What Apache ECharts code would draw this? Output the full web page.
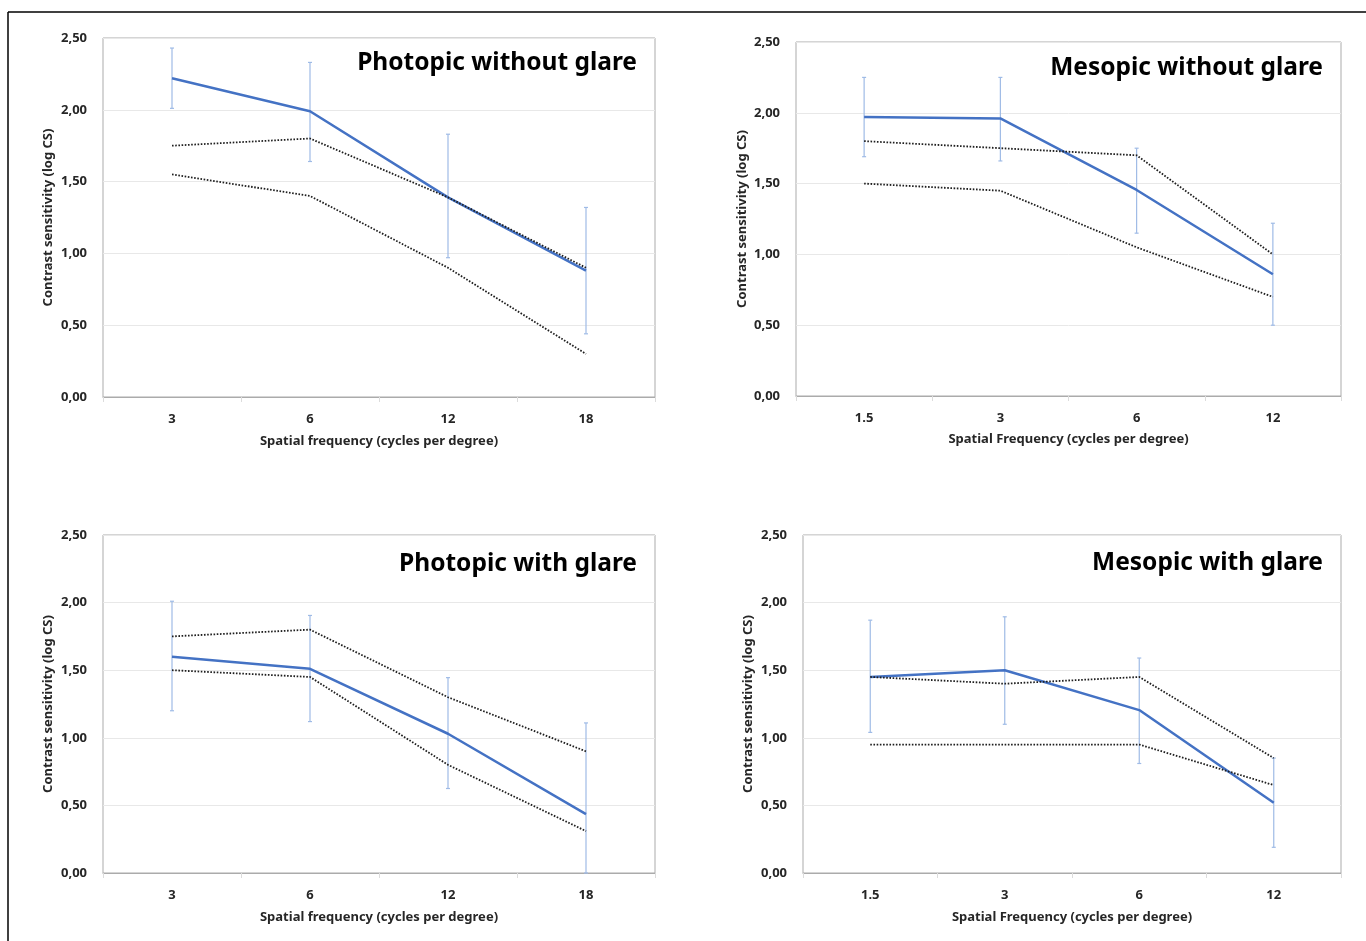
<!DOCTYPE html>
<html>
<head>
<meta charset="utf-8">
<script src="https://cdn.jsdelivr.net/npm/echarts@6/dist/echarts.min.js"></script>
<style>
  html, body { margin: 0; padding: 0; background: #fff; }
  #main { width: 1366px; height: 941px; }
</style>
</head>
<body>
<div id="main"></div>
<script>
// categories
var photopicCats = ['3', '6', '12', '18'];
var mesopicCats = ['1.5', '3', '6', '12'];
var yTicks = [0, 0.5, 1, 1.5, 2, 2.5];

// Photopic without glare
var pwoMean = [2.22, 1.99, 1.39, 0.88];
var pwoLow = [2.01, 1.64, 0.97, 0.44];
var pwoHigh = [2.43, 2.33, 1.83, 1.32];
var pwoNormUp = [1.75, 1.80, 1.39, 0.90];
var pwoNormDn = [1.55, 1.40, 0.90, 0.30];

// Mesopic without glare
var mwoMean = [1.97, 1.96, 1.455, 0.86];
var mwoLow = [1.69, 1.66, 1.15, 0.50];
var mwoHigh = [2.25, 2.25, 1.75, 1.22];
var mwoNormUp = [1.80, 1.75, 1.70, 1.00];
var mwoNormDn = [1.50, 1.45, 1.05, 0.70];

// Photopic with glare
var pwMean = [1.60, 1.51, 1.03, 0.435];
var pwLow = [1.20, 1.12, 0.625, 0.00];
var pwHigh = [2.01, 1.905, 1.445, 1.11];
var pwNormUp = [1.75, 1.80, 1.30, 0.90];
var pwNormDn = [1.50, 1.45, 0.80, 0.31];

// Mesopic with glare
var mwMean = [1.45, 1.50, 1.205, 0.52];
var mwLow = [1.04, 1.10, 0.81, 0.19];
var mwHigh = [1.87, 1.895, 1.59, 0.85];
var mwNormUp = [1.45, 1.40, 1.45, 0.85];
var mwNormDn = [0.95, 0.95, 0.95, 0.65];

var FONT = '"Noto Sans", "Open Sans", sans-serif';
var blue = '#4472c4';
var errColor = '#9fbbe6';
var axisText = {fontFamily: FONT, fontSize: 13, fontWeight: 'bold', color: '#262626'};

var panels = [
  {title: 'Photopic without glare', cats: photopicCats, mean: pwoMean, lo: pwoLow, hi: pwoHigh, up: pwoNormUp, dn: pwoNormDn,
   xName: 'Spatial frequency (cycles per degree)', grid: {left: 103, top: 38, width: 552, height: 359},
   titlePos: {right: 724, top: 46}, yGap: 48, xGap: 38},
  {title: 'Mesopic without glare', cats: mesopicCats, mean: mwoMean, lo: mwoLow, hi: mwoHigh, up: mwoNormUp, dn: mwoNormDn,
   xName: 'Spatial Frequency (cycles per degree)', grid: {left: 796, top: 42, width: 545, height: 354},
   titlePos: {right: 38, top: 51}, yGap: 47, xGap: 37},
  {title: 'Photopic with glare', cats: photopicCats, mean: pwMean, lo: pwLow, hi: pwHigh, up: pwNormUp, dn: pwNormDn,
   xName: 'Spatial frequency (cycles per degree)', grid: {left: 103, top: 535, width: 552, height: 338},
   titlePos: {right: 724, top: 547}, yGap: 48, xGap: 38},
  {title: 'Mesopic with glare', cats: mesopicCats, mean: mwMean, lo: mwLow, hi: mwHigh, up: mwNormUp, dn: mwNormDn,
   xName: 'Spatial Frequency (cycles per degree)', grid: {left: 803, top: 535, width: 538, height: 338},
   titlePos: {right: 38, top: 546}, yGap: 48, xGap: 38}
];

function renderErr(params, api) {
  var x = api.value(0);
  var p1 = api.coord([x, api.value(1)]);
  var p2 = api.coord([x, api.value(2)]);
  var w = 2;
  var st = {stroke: errColor, lineWidth: 1.2};
  return {
    type: 'group',
    children: [
      {type: 'line', shape: {x1: p1[0], y1: p1[1], x2: p2[0], y2: p2[1]}, style: st},
      {type: 'line', shape: {x1: p1[0] - w, y1: p1[1], x2: p1[0] + w, y2: p1[1]}, style: st},
      {type: 'line', shape: {x1: p2[0] - w, y1: p2[1], x2: p2[0] + w, y2: p2[1]}, style: st}
    ]
  };
}

var titles = [], grids = [], xAxes = [], yAxes = [], series = [];

panels.forEach(function (p, i) {
  titles.push({
    text: p.title, right: p.titlePos.right, top: p.titlePos.top,
    textStyle: {fontFamily: FONT, fontSize: 24.5, fontWeight: 'bold', color: '#000'}
  });
  grids.push({
    left: p.grid.left, top: p.grid.top, width: p.grid.width, height: p.grid.height,
    show: true, borderColor: '#ababab', borderWidth: 1, backgroundColor: '#fff'
  });
  xAxes.push({
    type: 'category', gridIndex: i, data: p.cats, boundaryGap: true,
    name: p.xName, nameLocation: 'middle', nameGap: p.xGap,
    nameTextStyle: axisText,
    axisLine: {lineStyle: {color: '#ababab', width: 1}},
    axisTick: {show: true, length: 5, lineStyle: {color: '#dcdcdc'}},
    axisLabel: Object.assign({margin: 16}, axisText),
    splitLine: {show: false}
  });
  yAxes.push({
    type: 'value', gridIndex: i, min: yTicks[0], max: yTicks[yTicks.length - 1], interval: 0.5,
    name: 'Contrast sensitivity (log CS)', nameLocation: 'middle', nameGap: p.yGap,
    nameTextStyle: axisText,
    axisLine: {show: false}, axisTick: {show: false},
    axisLabel: Object.assign({margin: 16,
      formatter: function (v) { return v.toFixed(2).replace('.', ','); }}, axisText),
    splitLine: {lineStyle: {color: '#e8e8e8', width: 1}}
  });
  var errData = p.cats.map(function (c, k) { return [k, p.lo[k], p.hi[k]]; });
  series.push({
    type: 'custom', xAxisIndex: i, yAxisIndex: i, renderItem: renderErr,
    encode: {x: 0, y: [1, 2]}, data: errData, z: 2, silent: true
  });
  series.push({
    type: 'line', xAxisIndex: i, yAxisIndex: i, data: p.mean, showSymbol: false, symbol: 'none',
    lineStyle: {color: blue, width: 2.5}, z: 3
  });
  [p.up, p.dn].forEach(function (d) {
    series.push({
      type: 'line', xAxisIndex: i, yAxisIndex: i, data: d, showSymbol: false, symbol: 'none',
      lineStyle: {color: '#1f1f1f', width: 1.8, type: [1.6, 1.6]}, z: 4
    });
  });
});

var chart = echarts.init(document.getElementById('main'), null, {renderer: 'canvas'});
chart.setOption({
  backgroundColor: '#fff',
  animation: false,
  title: titles,
  grid: grids,
  xAxis: xAxes,
  yAxis: yAxes,
  series: series,
  graphic: [
    {type: 'line', shape: {x1: 8, y1: 12, x2: 1366, y2: 12}, style: {stroke: '#000', lineWidth: 1.5}},
    {type: 'line', shape: {x1: 8, y1: 12, x2: 8, y2: 941}, style: {stroke: '#000', lineWidth: 1.5}}
  ]
});
</script>
</body>
</html>
